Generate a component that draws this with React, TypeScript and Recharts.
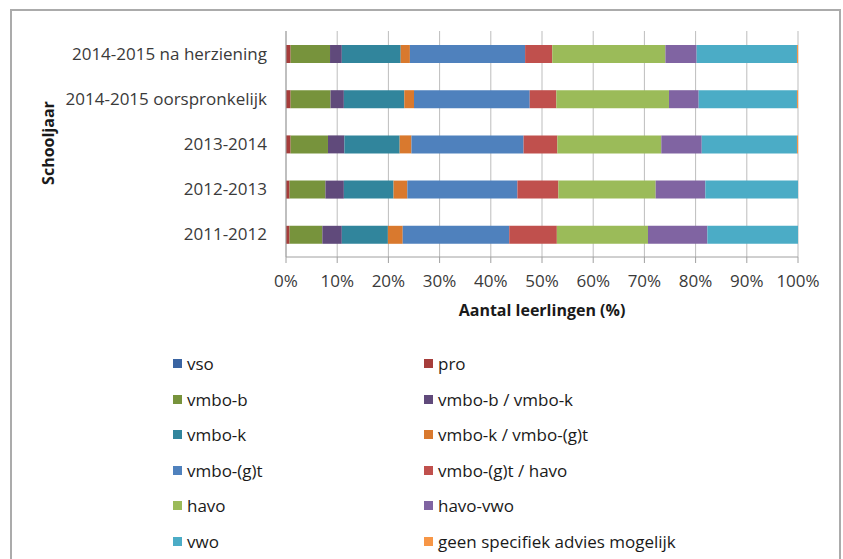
import React from 'react'
import {
  BarChart,
  Bar,
  XAxis,
  YAxis,
  CartesianGrid,
  Legend
} from 'recharts'

// schooljaren, van boven naar beneden
const schooljaren = [
  '2014-2015 na herziening',
  '2014-2015 oorspronkelijk',
  '2013-2014',
  '2012-2013',
  '2011-2012'
]

// aandeel leerlingen per advies (%)
const vso = [0, 0, 0, 0, 0]
const pro = [0.9, 0.9, 0.9, 0.7, 0.7]
const vmboB = [7.7, 7.8, 7.3, 7.0, 6.4]
const vmboBK = [2.3, 2.6, 3.2, 3.6, 3.8]
const vmboK = [11.5, 11.8, 10.8, 9.7, 9.0]
const vmboKGT = [1.8, 1.9, 2.3, 2.7, 2.9]
const vmboGT = [22.5, 22.6, 21.9, 21.5, 20.8]
const vmboGTHavo = [5.3, 5.2, 6.6, 8.0, 9.3]
const havo = [22.1, 22.0, 20.3, 19.0, 17.8]
const havoVwo = [6.1, 5.8, 7.9, 9.7, 11.6]
const vwo = [19.6, 19.2, 18.6, 18.1, 17.7]
const geen = [0.2, 0.2, 0.2, 0, 0]

const xTicks = [0, 10, 20, 30, 40, 50, 60, 70, 80, 90, 100]

const series = [
  { key: 'vso', name: 'vso', values: vso, color: '#3A64A2' },
  { key: 'pro', name: 'pro', values: pro, color: '#A63D3B' },
  { key: 'vmboB', name: 'vmbo-b', values: vmboB, color: '#77933C' },
  { key: 'vmboBK', name: 'vmbo-b / vmbo-k', values: vmboBK, color: '#604A7B' },
  { key: 'vmboK', name: 'vmbo-k', values: vmboK, color: '#31859C' },
  { key: 'vmboKGT', name: 'vmbo-k / vmbo-(g)t', values: vmboKGT, color: '#D9792E' },
  { key: 'vmboGT', name: 'vmbo-(g)t', values: vmboGT, color: '#4F81BD' },
  { key: 'vmboGTHavo', name: 'vmbo-(g)t / havo', values: vmboGTHavo, color: '#C0504D' },
  { key: 'havo', name: 'havo', values: havo, color: '#9BBB59' },
  { key: 'havoVwo', name: 'havo-vwo', values: havoVwo, color: '#8064A2' },
  { key: 'vwo', name: 'vwo', values: vwo, color: '#4BACC6' },
  { key: 'geen', name: 'geen specifiek advies mogelijk', values: geen, color: '#F79646' }
]

const data = schooljaren.map((jaar, i) => {
  const row: Record<string, string | number> = { jaar }
  series.forEach((s) => {
    row[s.key] = s.values[i]
  })
  return row
})

const font = '"Open Sans", Lato, sans-serif'

// legenda in de volgorde van de reeksen (twee kolommen)
function LegendContent() {
  return (
    <div
      style={{
        display: 'grid',
        gridTemplateColumns: '251px 320px',
        gridAutoRows: '35.5px'
      }}
    >
      {series.map((s) => (
        <div key={s.key} style={{ display: 'flex', alignItems: 'center' }}>
          <span
            style={{
              display: 'inline-block',
              width: 9,
              height: 9,
              background: s.color,
              marginRight: 5
            }}
          />
          <span>{s.name}</span>
        </div>
      ))}
    </div>
  )
}

export default function App() {
  return (
    <div style={{ position: 'absolute', left: 0, top: 0, width: 843, height: 559, background: '#fff' }}>
      <div
        style={{
          position: 'absolute',
          left: 10,
          top: 9,
          width: 831,
          height: 600,
          border: '2px solid #ABABAB',
          boxSizing: 'border-box'
        }}
      />
      <div style={{ position: 'absolute', left: 0, top: 0 }}>
        <BarChart
          width={843}
          height={559}
          data={data}
          layout="vertical"
          margin={{ top: 31, right: 45, left: 20, bottom: 262 }}
          barSize={18}
          style={{ fontFamily: font }}
        >
          <CartesianGrid horizontal={false} stroke="#BDBDBD" />
          <YAxis
            yAxisId="edges"
            type="number"
            domain={[0, 5]}
            ticks={[0, 1, 2, 3, 4, 5]}
            width={0}
            axisLine={false}
            tickSize={4}
            tickLine={{ stroke: '#A0A0A0' }}
            tickFormatter={() => ''}
          />
          <YAxis
            type="category"
            dataKey="jaar"
            width={266}
            axisLine={{ stroke: '#A0A0A0' }}
            tickLine={false}
            tickSize={0}
            tickMargin={19}
            tick={{ fontSize: 17, fill: '#3a3a3a' }}
            label={{
              content: () => (
                <text
                  x={48}
                  y={143}
                  transform="rotate(-90 48 143)"
                  textAnchor="middle"
                  dominantBaseline="central"
                  fontSize={16}
                  fontWeight="bold"
                  fill="#1a1a1a"
                >
                  Schooljaar
                </text>
              )
            }}
          />
          <XAxis
            type="number"
            domain={[0, 100]}
            ticks={xTicks}
            allowDataOverflow
            height={40}
            tickFormatter={(v) => `${v}%`}
            axisLine={{ stroke: '#A0A0A0' }}
            tickLine={{ stroke: '#A0A0A0' }}
            tickSize={6}
            tickMargin={12}
            tick={{ fontSize: 17, fill: '#3a3a3a' }}
            label={{
              value: 'Aantal leerlingen (%)',
              position: 'bottom',
              offset: 8,
              fontSize: 16,
              fontWeight: 'bold',
              fill: '#1a1a1a'
            }}
          />
          <Legend
            layout="horizontal"
            align="center"
            verticalAlign="middle"
            content={<LegendContent />}
            wrapperStyle={{
              position: 'absolute',
              left: 173,
              top: 346,
              width: 600,
              height: 'auto',
              fontFamily: font,
              fontSize: 17,
              color: '#1a1a1a'
            }}
          />
          {series.map((s) => (
            <Bar
              key={s.key}
              dataKey={s.key}
              name={s.name}
              stackId="advies"
              fill={s.color}
              isAnimationActive={false}
            />
          ))}
        </BarChart>
      </div>
    </div>
  )
}
